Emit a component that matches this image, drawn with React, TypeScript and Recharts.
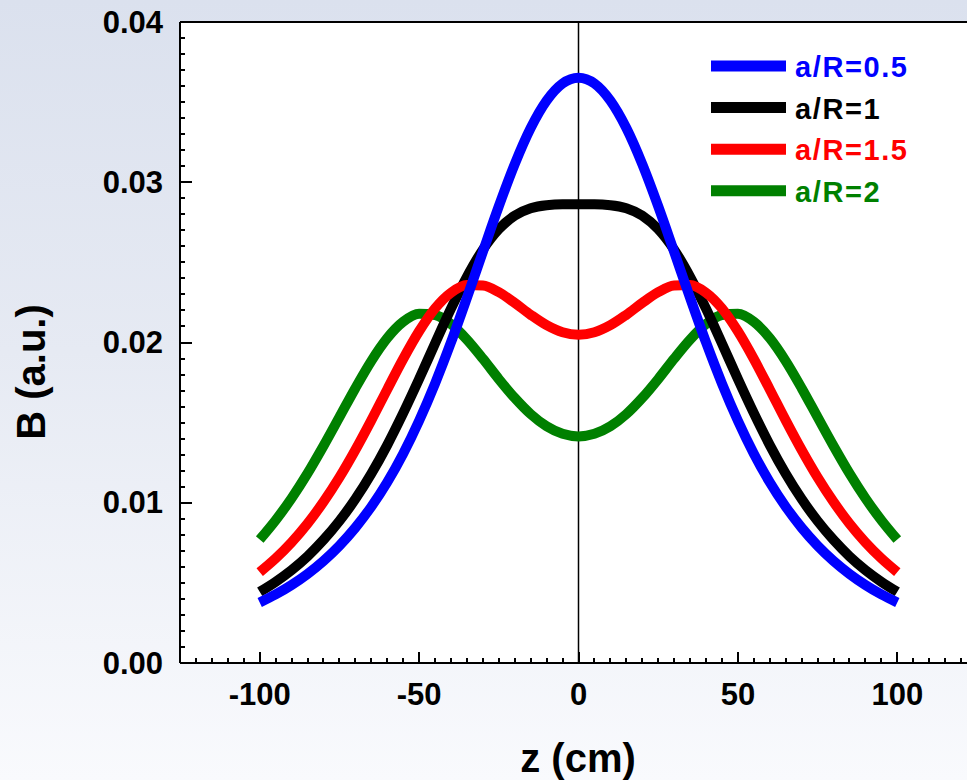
import { LineChart, Line, XAxis, YAxis, CartesianGrid, ReferenceLine, Legend } from "recharts";

const zValues = [
  -100, -95, -90, -85, -80, -75, -70, -65, -60, -55, -50, -45, -40, -35, -30, -25, -20, -15, -10, -5, 0,
  5, 10, 15, 20, 25, 30, 35, 40, 45, 50, 55, 60, 65, 70, 75, 80, 85, 90, 95, 100,
];

const bHalf = [
  0.00378, 0.00428, 0.00487, 0.00556, 0.00637, 0.00732, 0.00844, 0.00975, 0.01128, 0.01306, 0.01512,
  0.01744, 0.02001, 0.02279, 0.02566, 0.0285, 0.03113, 0.03338, 0.03509, 0.03616, 0.03652, 0.03616,
  0.03509, 0.03338, 0.03113, 0.0285, 0.02566, 0.02279, 0.02001, 0.01744, 0.01512, 0.01306, 0.01128,
  0.00975, 0.00844, 0.00732, 0.00637, 0.00556, 0.00487, 0.00428, 0.00378,
];

const bOne = [
  0.00444, 0.00507, 0.0058, 0.00666, 0.00768, 0.00886, 0.01023, 0.01181, 0.0136, 0.01559, 0.01772,
  0.01994, 0.02211, 0.0241, 0.02579, 0.02707, 0.02792, 0.02838, 0.02857, 0.02862, 0.02862, 0.02862,
  0.02857, 0.02838, 0.02792, 0.02707, 0.02579, 0.0241, 0.02211, 0.01994, 0.01772, 0.01559, 0.0136,
  0.01181, 0.01023, 0.00886, 0.00768, 0.00666, 0.0058, 0.00507, 0.00444,
];

const bOneHalf = [
  0.00567, 0.00653, 0.00753, 0.0087, 0.01005, 0.01158, 0.01329, 0.01514, 0.01707, 0.01897, 0.0207,
  0.02213, 0.02311, 0.02359, 0.02356, 0.02314, 0.02247, 0.02173, 0.02108, 0.02064, 0.02048, 0.02064,
  0.02108, 0.02173, 0.02247, 0.02314, 0.02356, 0.02359, 0.02311, 0.02213, 0.0207, 0.01897, 0.01707,
  0.01514, 0.01329, 0.01158, 0.01005, 0.0087, 0.00753, 0.00653, 0.00567,
];

const bTwo = [
  0.0077, 0.00891, 0.01028, 0.01183, 0.01354, 0.01534, 0.01715, 0.01884, 0.02027, 0.02129, 0.02179,
  0.02172, 0.02115, 0.02018, 0.01899, 0.01772, 0.01654, 0.01553, 0.01477, 0.0143, 0.01414, 0.0143,
  0.01477, 0.01553, 0.01654, 0.01772, 0.01899, 0.02018, 0.02115, 0.02172, 0.02179, 0.02129, 0.02027,
  0.01884, 0.01715, 0.01534, 0.01354, 0.01183, 0.01028, 0.00891, 0.0077,
];

const seriesKeys = ["half", "one", "oneHalf", "two"];
const seriesNames = ["a/R=0.5", "a/R=1", "a/R=1.5", "a/R=2"];
const seriesColors = ["#0000ff", "#000000", "#ff0000", "#008000"];
// bottom to top, as in the original (blue sits over everything)
const drawOrder = [3, 1, 2, 0];

const xLabels = [-100, -50, 0, 50, 100];
const yLabels = [0, 0.01, 0.02, 0.03, 0.04];

// minor ticks: every 5 cm on x, every 0.001 on y
const xTicks = Array.from({ length: 51 }, (_, i) => -125 + i * 5);
const yTicks = Array.from({ length: 41 }, (_, i) => +(i * 0.001).toFixed(3));

const data = zValues.map((z, i) => ({
  z,
  half: bHalf[i],
  one: bOne[i],
  oneHalf: bOneHalf[i],
  two: bTwo[i],
}));

const FONT = "'Liberation Sans', Arial, Helvetica, sans-serif";

const XTick = (props: any) => {
  const { x, y, payload } = props;
  const v = payload.value;
  const major = xLabels.includes(v);
  const px = Math.round(x);
  return (
    <g>
      <line x1={px} x2={px} y1={y} y2={y - (major ? 11 : 5)} stroke="#000" strokeWidth={2} shapeRendering="crispEdges" />
      {major && (
        <text x={x} y={y + 31} textAnchor="middle" dominantBaseline="central" fontFamily={FONT} fontWeight="bold" fontSize={31} fill="#000">
          {v}
        </text>
      )}
    </g>
  );
};

const YTick = (props: any) => {
  const { x, y, payload } = props;
  const v = payload.value;
  const major = yLabels.some((l) => Math.abs(l - v) < 1e-6);
  const py = Math.round(y);
  return (
    <g>
      <line x1={x} x2={x + (major ? 12 : 5)} y1={py} y2={py} stroke="#000" strokeWidth={2} shapeRendering="crispEdges" />
      {major && (
        <text x={x - 17} y={y} textAnchor="end" dominantBaseline="central" fontFamily={FONT} fontWeight="bold" fontSize={31} fill="#000">
          {v.toFixed(2)}
        </text>
      )}
    </g>
  );
};

const LegendBox = () => (
  <svg width={240} height={175}>
    {seriesNames.map((name, i) => {
      const cy = 26 + i * 41.6;
      return (
        <g key={name}>
          <line x1={6} x2={81} y1={cy} y2={cy} stroke={seriesColors[i]} strokeWidth={11} />
          <text x={90} y={cy + 1} dominantBaseline="central" fontFamily={FONT} fontWeight="bold" fontSize={29} letterSpacing="1.6px" fill={seriesColors[i]}>
            {name}
          </text>
        </g>
      );
    })}
  </svg>
);

export default function App() {
  return (
    <div
      style={{
        position: "absolute",
        left: 0,
        top: 0,
        width: 967,
        height: 780,
        overflow: "hidden",
        background: "linear-gradient(to bottom, #dbe1ee 0%, #e6eaf3 45%, #f9fafd 100%)",
      }}
    >
      <LineChart width={1000} height={780} data={data} margin={{ top: 22, right: 23, left: 0, bottom: 0 }}>
        <CartesianGrid fill="#ffffff" horizontal={false} vertical={false} />
        <XAxis
          dataKey="z"
          type="number"
          domain={[-125, 125]}
          ticks={xTicks}
          interval={0}
          tickSize={0}
          tickMargin={0}
          tick={XTick}
          height={117}
          axisLine={{ stroke: "#000", strokeWidth: 2 }}
          label={{
            content: () => (
              <text x={578} y={772} textAnchor="middle" fontFamily={FONT} fontWeight="bold" fontSize={40} fill="#000">
                z (cm)
              </text>
            ),
          }}
        />
        <YAxis
          type="number"
          domain={[0, 0.04]}
          ticks={yTicks}
          interval={0}
          tickSize={0}
          tickMargin={0}
          tick={YTick}
          width={180}
          axisLine={{ stroke: "#000", strokeWidth: 2 }}
          label={{
            content: () => (
              <text x={45} y={372} transform="rotate(-90 45 372)" textAnchor="middle" fontFamily={FONT} fontWeight="bold" fontSize={40} fill="#000">
                B (a.u.)
              </text>
            ),
          }}
        />
        <ReferenceLine y={0.04} stroke="#000" strokeWidth={2} />
        <ReferenceLine x={0} stroke="#000" strokeWidth={1.5} />
        {drawOrder.map((i) => (
          <Line
            key={seriesKeys[i]}
            dataKey={seriesKeys[i]}
            name={seriesNames[i]}
            type="monotone"
            stroke={seriesColors[i]}
            strokeWidth={10}
            dot={false}
            activeDot={false}
            isAnimationActive={false}
          />
        ))}
        <Legend
          layout="vertical"
          align="center"
          verticalAlign="middle"
          content={LegendBox}
          wrapperStyle={{ left: 705, top: 40, width: 240, height: 175 }}
        />
      </LineChart>
    </div>
  );
}
